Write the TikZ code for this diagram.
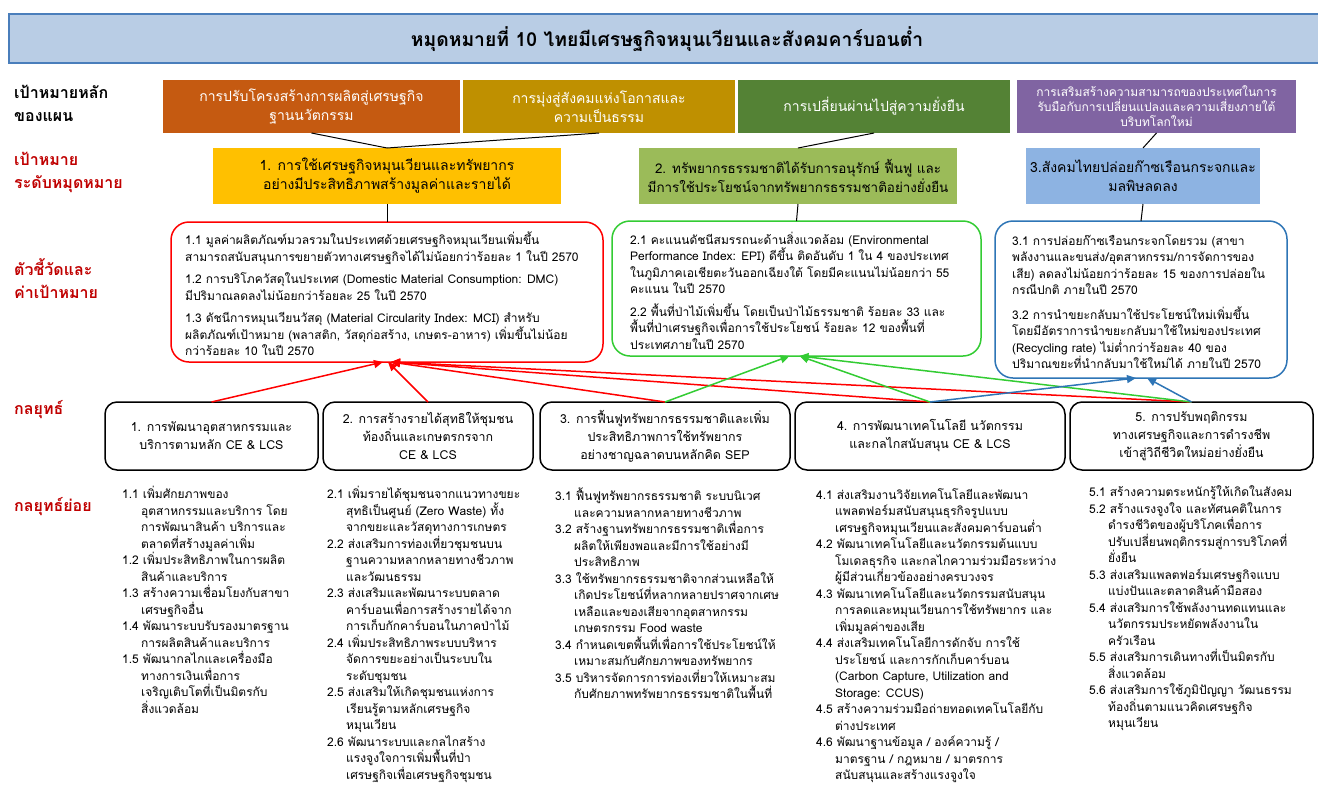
\documentclass[tikz,border=0pt]{standalone}
\usepackage{fontspec}
\setmainfont[Script=Thai]{Loma}
\usetikzlibrary{arrows.meta}
\definecolor{titleFill}{HTML}{B9CDE5}
\definecolor{titleLine}{HTML}{4A7EBB}
\definecolor{cOrange}{HTML}{C55A11}
\definecolor{cGold}{HTML}{BF9000}
\definecolor{cGreenD}{HTML}{548235}
\definecolor{cPurple}{HTML}{8064A2}
\definecolor{cYellow}{HTML}{FFC000}
\definecolor{cGreenL}{HTML}{9BBB59}
\definecolor{cBlueL}{HTML}{8DB3E2}
\definecolor{bRed}{HTML}{FF0000}
\definecolor{bGreen}{HTML}{33CC33}
\definecolor{bBlue}{HTML}{2E75B6}
\definecolor{labRed}{HTML}{C00000}
\newcommand\tfont[2]{\fontsize{#1}{#2}\selectfont\lineskiplimit=-60pt\relax}
\newcommand\hind{\hspace*{19pt}}
\tikzset{
  topbox/.style={rectangle, minimum height=53pt, text=white, align=center, inner sep=0pt, outer sep=0pt, anchor=north west, font=\tfont{14}{19}},
  lvtwo/.style={rectangle, minimum height=56pt, align=center, inner sep=0pt, outer sep=0pt, anchor=north west, font=\tfont{14}{19}},
  indbox/.style={draw, rounded corners=18pt, line width=1.5pt, inner sep=0pt, outer sep=0pt, anchor=north west},
  indtext/.style={align=left, inner sep=0pt, anchor=west, font=\tfont{12}{16.5}},
  stratbox/.style={draw, rounded corners=12pt, line width=1.5pt, minimum height=68pt, align=center, inner sep=0pt, outer sep=0pt, anchor=north west, font=\tfont{12.4}{18}},
  subtext/.style={align=left, inner sep=0pt, anchor=north west, font=\tfont{12}{16.5}},
  sidelabel/.style={align=left, inner sep=0pt, anchor=north west, font=\tfont{16}{23}\bfseries},
  link/.style={line width=1pt, draw=black},
  arr/.style={-{Triangle[length=9pt,width=8pt]}, line width=1.5pt},
}
\begin{document}
\begin{tikzpicture}[x=1pt,y=-1pt]
\useasboundingbox[fill=white] (0,0) rectangle (1318,788);

% title bar
\node[rectangle, fill=titleFill, draw=titleLine, line width=1.5pt, minimum width=1312pt, minimum height=49pt, anchor=north west, inner sep=0pt] (titlebar) at (8,13) {};
\node[font=\tfont{19.3}{24}\bfseries, inner sep=0pt] (title) at (667,39) {หมุดหมายที่ 10 ไทยมีเศรษฐกิจหมุนเวียนและสังคมคาร์บอนต่ำ};

% side labels
\node[sidelabel] (lab1) at (14,85) {เป้าหมายหลัก\\ของแผน};
\node[sidelabel, text=labRed] (lab2) at (14,152) {เป้าหมาย\\ระดับหมุดหมาย};
\node[sidelabel, text=labRed] (lab3) at (14,258) {ตัวชี้วัดและ\\ค่าเป้าหมาย};
\node[sidelabel, text=labRed] (lab4) at (14,400) {กลยุทธ์};
\node[sidelabel, text=labRed] (lab5) at (14,497) {กลยุทธ์ย่อย};

% top row
\node[topbox, fill=cOrange, minimum width=297pt] (t1) at (163,80) {การปรับโครงสร้างการผลิตสู่เศรษฐกิจ\\ฐานนวัตกรรม};
\node[topbox, fill=cGold, minimum width=272pt] (t2) at (463,80) {การมุ่งสู่สังคมแห่งโอกาสและ\\ความเป็นธรรม};
\node[topbox, fill=cGreenD, minimum width=272pt] (t3) at (738,80) {การเปลี่ยนผ่านไปสู่ความยั่งยืน};
\node[topbox, fill=cPurple, minimum width=279pt, font=\tfont{12}{15}] (t4) at (1017,80) {การเสริมสร้างความสามารถของประเทศในการ\\รับมือกับการเปลี่ยนแปลงและความเสี่ยงภายใต้\\บริบทโลกใหม่};

% level 2
\node[lvtwo, fill=cYellow, minimum width=348pt] (g1) at (213,148) {1. การใช้เศรษฐกิจหมุนเวียนและทรัพยากร\\อย่างมีประสิทธิภาพสร้างมูลค่าและรายได้};
\node[lvtwo, fill=cGreenL, minimum width=318pt, font=\tfont{13.4}{19}] (g2) at (639,148) {2. ทรัพยากรธรรมชาติได้รับการอนุรักษ์ ฟื้นฟู และ\\มีการใช้ประโยชน์จากทรัพยากรธรรมชาติอย่างยั่งยืน};
\node[lvtwo, fill=cBlueL, minimum width=234pt] (g3) at (1026,148) {3.สังคมไทยปล่อยก๊าซเรือนกระจกและ\\มลพิษลดลง};

\draw[link] (t1.south) -- (g1.north);
\draw[link] (t2.south) -- (g1.north);
\draw[link] (t3.south) -- (g2.north);
\draw[link] (t4.south) -- (g3.north);

% indicator boxes
\node[indbox, draw=bRed, minimum width=432pt, minimum height=140pt] (i1) at (171,222) {};
\node[indbox, draw=bGreen, minimum width=369pt, minimum height=135pt] (i2) at (612,221) {};
\node[indbox, draw=bBlue, minimum width=292pt, minimum height=157pt] (i3) at (995,221) {};

\draw[link] (g1.south) -- (i1.north);
\draw[link] (g2.south) -- (i2.north);
\draw[link] (g3.south) -- (i3.north);

\node[indtext] (i1t) at ([xshift=14pt,yshift=-2pt]i1.west) {1.1 มูลค่าผลิตภัณฑ์มวลรวมในประเทศด้วยเศรษฐกิจหมุนเวียนเพิ่มขึ้น\\สามารถสนับสนุนการขยายตัวทางเศรษฐกิจได้ไม่น้อยกว่าร้อยละ 1 ในปี 2570\\[6pt]1.2 การบริโภควัสดุในประเทศ (Domestic Material Consumption: DMC)\\มีปริมาณลดลงไม่น้อยกว่าร้อยละ 25 ในปี 2570\\[6pt]1.3 ดัชนีการหมุนเวียนวัสดุ (Material Circularity Index: MCI) สำหรับ\\ผลิตภัณฑ์เป้าหมาย (พลาสติก, วัสดุก่อสร้าง, เกษตร-อาหาร) เพิ่มขึ้นไม่น้อย\\กว่าร้อยละ 10 ในปี 2570};
\node[indtext] (i2t) at ([xshift=18pt,yshift=-2pt]i2.west) {2.1 คะแนนดัชนีสมรรถนะด้านสิ่งแวดล้อม (Environmental\\Performance Index: EPI) ดีขึ้น ติดอันดับ 1 ใน 4 ของประเทศ\\ในภูมิภาคเอเชียตะวันออกเฉียงใต้ โดยมีคะแนนไม่น้อยกว่า 55\\คะแนน ในปี 2570\\[6pt]2.2 พื้นที่ป่าไม้เพิ่มขึ้น โดยเป็นป่าไม้ธรรมชาติ ร้อยละ 33 และ\\พื้นที่ป่าเศรษฐกิจเพื่อการใช้ประโยชน์ ร้อยละ 12 ของพื้นที่\\ประเทศภายในปี 2570};
\node[indtext] (i3t) at ([xshift=17pt,yshift=-2pt]i3.west) {3.1 การปล่อยก๊าซเรือนกระจกโดยรวม (สาขา\\พลังงานและขนส่ง/อุตสาหกรรม/การจัดการของ\\เสีย) ลดลงไม่น้อยกว่าร้อยละ 15 ของการปล่อยใน\\กรณีปกติ ภายในปี 2570\\[8pt]3.2 การนำขยะกลับมาใช้ประโยชน์ใหม่เพิ่มขึ้น\\โดยมีอัตราการนำขยะกลับมาใช้ใหม่ของประเทศ\\(Recycling rate) ไม่ต่ำกว่าร้อยละ 40 ของ\\ปริมาณขยะที่นำกลับมาใช้ใหม่ได้ ภายในปี 2570};

% strategies
\node[stratbox, minimum width=213pt] (s1) at (105,402) {1. การพัฒนาอุตสาหกรรมและ\\บริการตามหลัก CE \& LCS};
\node[stratbox, minimum width=210pt] (s2) at (323,402) {2. การสร้างรายได้สุทธิให้ชุมชน\\ท้องถิ่นและเกษตรกรจาก\\CE \& LCS};
\node[stratbox, minimum width=250pt] (s3) at (540,402) {3. การฟื้นฟูทรัพยากรธรรมชาติและเพิ่ม\\ประสิทธิภาพการใช้ทรัพยากร\\อย่างชาญฉลาดบนหลักคิด SEP};
\node[stratbox, minimum width=270pt] (s4) at (795,402) {4. การพัฒนาเทคโนโลยี นวัตกรรม\\และกลไกสนับสนุน CE \& LCS};
\node[stratbox, minimum width=243pt] (s5) at (1070,402) {5. การปรับพฤติกรรม\\ทางเศรษฐกิจและการดำรงชีพ\\เข้าสู่วิถีชีวิตใหม่อย่างยั่งยืน};

% arrows
\draw[arr, draw=bRed, fill=bRed] (s1.north) -- ([xshift=-4pt]i1.south);
\draw[arr, draw=bRed, fill=bRed] (s2.north) -- ([xshift=1pt]i1.south);
\draw[arr, draw=bRed, fill=bRed] (s3.north) -- ([xshift=4pt]i1.south);
\draw[arr, draw=bRed, fill=bRed] (s4.north) -- ([xshift=4pt]i1.south);
\draw[arr, draw=bRed, fill=bRed] (s5.north) -- ([xshift=4pt]i1.south);
\draw[arr, draw=bGreen, fill=bGreen] (s3.north) -- ([xshift=-7pt]i2.south);
\draw[arr, draw=bGreen, fill=bGreen] (s4.north) -- ([xshift=3pt]i2.south);
\draw[arr, draw=bGreen, fill=bGreen] (s5.north) -- ([xshift=3pt]i2.south);
\draw[arr, draw=bBlue, fill=bBlue] (s4.north) -- ([xshift=-5pt]i3.south);
\draw[arr, draw=bBlue, fill=bBlue] (s5.north) -- ([xshift=6pt]i3.south);

% sub-strategies
\node[subtext] (ss1) at (122,486) {1.1 เพิ่มศักยภาพของ\\\hind อุตสาหกรรมและบริการ โดย\\\hind การพัฒนาสินค้า บริการและ\\\hind ตลาดที่สร้างมูลค่าเพิ่ม\\1.2 เพิ่มประสิทธิภาพในการผลิต\\\hind สินค้าและบริการ\\1.3 สร้างความเชื่อมโยงกับสาขา\\\hind เศรษฐกิจอื่น\\1.4 พัฒนาระบบรับรองมาตรฐาน\\\hind การผลิตสินค้าและบริการ\\1.5 พัฒนากลไกและเครื่องมือ\\\hind ทางการเงินเพื่อการ\\\hind เจริญเติบโตที่เป็นมิตรกับ\\\hind สิ่งแวดล้อม};
\node[subtext] (ss2) at (327,486) {2.1 เพิ่มรายได้ชุมชนจากแนวทางขยะ\\\hind สุทธิเป็นศูนย์ (Zero Waste) ทั้ง\\\hind จากขยะและวัสดุทางการเกษตร\\2.2 ส่งเสริมการท่องเที่ยวชุมชนบน\\\hind ฐานความหลากหลายทางชีวภาพ\\\hind และวัฒนธรรม\\2.3 ส่งเสริมและพัฒนาระบบตลาด\\\hind คาร์บอนเพื่อการสร้างรายได้จาก\\\hind การเก็บกักคาร์บอนในภาคป่าไม้\\2.4 เพิ่มประสิทธิภาพระบบบริหาร\\\hind จัดการขยะอย่างเป็นระบบใน\\\hind ระดับชุมชน\\2.5 ส่งเสริมให้เกิดชุมชนแห่งการ\\\hind เรียนรู้ตามหลักเศรษฐกิจ\\\hind หมุนเวียน\\2.6 พัฒนาระบบและกลไกสร้าง\\\hind แรงจูงใจการเพิ่มพื้นที่ป่า\\\hind เศรษฐกิจเพื่อเศรษฐกิจชุมชน};
\node[subtext] (ss3) at (555,488) {3.1 ฟื้นฟูทรัพยากรธรรมชาติ ระบบนิเวศ\\\hind และความหลากหลายทางชีวภาพ\\3.2 สร้างฐานทรัพยากรธรรมชาติเพื่อการ\\\hind ผลิตให้เพียงพอและมีการใช้อย่างมี\\\hind ประสิทธิภาพ\\3.3 ใช้ทรัพยากรธรรมชาติจากส่วนเหลือให้\\\hind เกิดประโยชน์ที่หลากหลายปราศจากเศษ\\\hind เหลือและของเสียจากอุตสาหกรรม\\\hind เกษตรกรรม Food waste\\3.4 กำหนดเขตพื้นที่เพื่อการใช้ประโยชน์ให้\\\hind เหมาะสมกับศักยภาพของทรัพยากร\\3.5 บริหารจัดการการท่องเที่ยวให้เหมาะสม\\\hind กับศักยภาพทรัพยากรธรรมชาติในพื้นที่};
\node[subtext] (ss4) at (816,488) {4.1 ส่งเสริมงานวิจัยเทคโนโลยีและพัฒนา\\\hind แพลตฟอร์มสนับสนุนธุรกิจรูปแบบ\\\hind เศรษฐกิจหมุนเวียนและสังคมคาร์บอนต่ำ\\4.2 พัฒนาเทคโนโลยีและนวัตกรรมต้นแบบ\\\hind โมเดลธุรกิจ และกลไกความร่วมมือระหว่าง\\\hind ผู้มีส่วนเกี่ยวข้องอย่างครบวงจร\\4.3 พัฒนาเทคโนโลยีและนวัตกรรมสนับสนุน\\\hind การลดและหมุนเวียนการใช้ทรัพยากร และ\\\hind เพิ่มมูลค่าของเสีย\\4.4 ส่งเสริมเทคโนโลยีการดักจับ การใช้\\\hind ประโยชน์ และการกักเก็บคาร์บอน\\\hind (Carbon Capture, Utilization and\\\hind Storage: CCUS)\\4.5 สร้างความร่วมมือถ่ายทอดเทคโนโลยีกับ\\\hind ต่างประเทศ\\4.6 พัฒนาฐานข้อมูล / องค์ความรู้ /\\\hind มาตรฐาน / กฎหมาย / มาตรการ\\\hind สนับสนุนและสร้างแรงจูงใจ};
\node[subtext] (ss5) at (1089,486) {5.1 สร้างความตระหนักรู้ให้เกิดในสังคม\\5.2 สร้างแรงจูงใจ และทัศนคติในการ\\\hind ดำรงชีวิตของผู้บริโภคเพื่อการ\\\hind ปรับเปลี่ยนพฤติกรรมสู่การบริโภคที่\\\hind ยั่งยืน\\5.3 ส่งเสริมแพลตฟอร์มเศรษฐกิจแบบ\\\hind แบ่งปันและตลาดสินค้ามือสอง\\5.4 ส่งเสริมการใช้พลังงานทดแทนและ\\\hind นวัตกรรมประหยัดพลังงานใน\\\hind ครัวเรือน\\5.5 ส่งเสริมการเดินทางที่เป็นมิตรกับ\\\hind สิ่งแวดล้อม\\5.6 ส่งเสริมการใช้ภูมิปัญญา วัฒนธรรม\\\hind ท้องถิ่นตามแนวคิดเศรษฐกิจ\\\hind หมุนเวียน};
\end{tikzpicture}
\end{document}
